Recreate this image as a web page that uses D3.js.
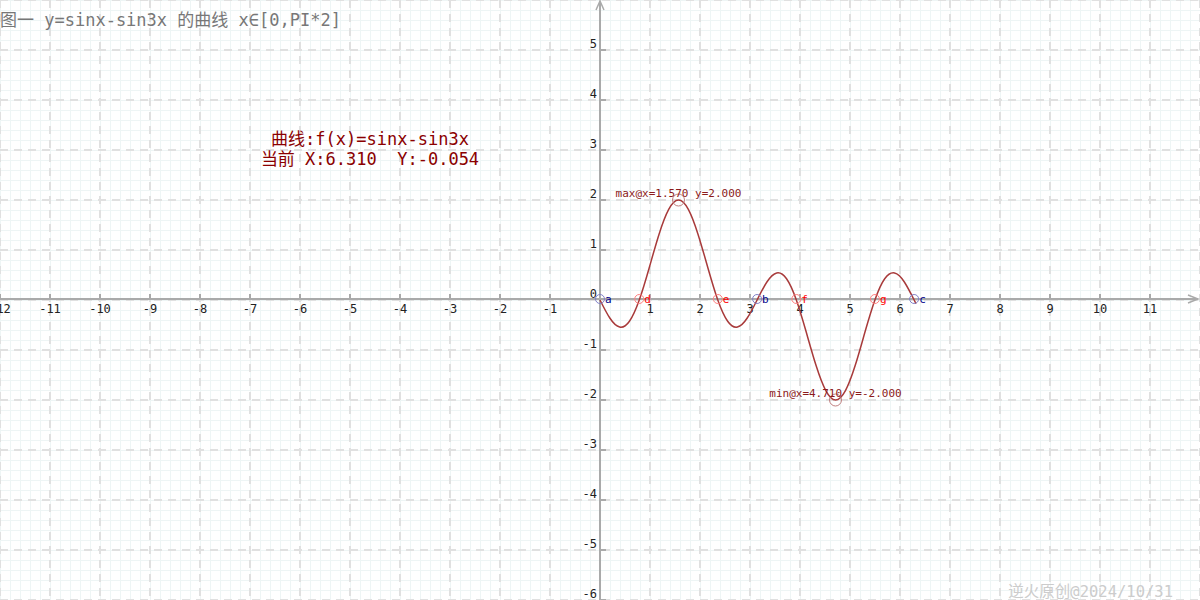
<!DOCTYPE html>
<html><head><meta charset="utf-8">
<script src="https://cdn.jsdelivr.net/npm/d3@7"></script>
<style>html,body{margin:0;padding:0;background:#fff;overflow:hidden} text{white-space:pre}</style>
</head><body>
<svg id="c" width="1200" height="600"></svg>
<script>
// ---- data ----
const xTicks = [-12,-11,-10,-9,-8,-7,-6,-5,-4,-3,-2,-1,1,2,3,4,5,6,7,8,9,10,11];
const yTicks = [-6,-5,-4,-3,-2,-1,0,1,2,3,4,5];
const curveX = [0,0.196,0.393,0.589,0.785,0.982,1.178,1.374,1.571,1.767,1.963,2.160,2.356,2.553,2.749,2.945,3.142,3.338,3.534,3.731,3.927,4.123,4.320,4.516,4.712,4.909,5.105,5.301,5.498,5.694,5.890,6.087,6.283,6.310];
const curveY = [0,-0.3605,-0.5412,-0.4252,0,0.6364,1.3066,1.8123,2,1.8123,1.3066,0.6364,0,-0.4252,-0.5412,-0.3605,0,0.3605,0.5412,0.4252,0,-0.6364,-1.3066,-1.8123,-2,-1.8123,-1.3066,-0.6364,0,0.4252,0.5412,0.3605,0,-0.054];
const rootNames = ["a","d","e","b","f","g","c"];
const rootX = [0,0.785,2.356,3.142,3.927,5.498,6.283];
const rootKind = ["blue","red","red","blue","red","red","blue"];
const extremaLabel = ["max@x=1.570 y=2.000","min@x=4.710 y=-2.000"];
const extremaX = [1.570,4.710];
const extremaY = [2,-2];
const titleText = "图一 y=sinx-sin3x 的曲线 x∈[0,PI*2]";
const infoLine1 = "曲线:f(x)=sinx-sin3x";
const infoLine2 = "当前 X:6.310  Y:-0.054";
const watermark = "逆火原创@2024/10/31";

const W=1200,H=600;
const svg=d3.select("#c");
const x=d3.scaleLinear().domain([-12,12]).range([0,1200]);
const y=d3.scaleLinear().domain([-6,6]).range([600,0]);
const mono="'DejaVu Sans Mono', 'Liberation Mono', monospace";
const cjk="'DejaVu Sans Mono','Noto Sans CJK SC', monospace";

// minor grid
const minorX=d3.range(-12,12.01,0.2), minorY=d3.range(-6,6.01,0.2);
svg.append("g").selectAll("line").data(minorX).join("line")
  .attr("x1",d=>x(d)+0.5).attr("x2",d=>x(d)+0.5).attr("y1",0).attr("y2",H)
  .attr("stroke","#eef5f5").attr("stroke-width",1);
svg.append("g").selectAll("line").data(minorY).join("line")
  .attr("y1",d=>y(d)+0.5).attr("y2",d=>y(d)+0.5).attr("x1",0).attr("x2",W)
  .attr("stroke","#eef5f5").attr("stroke-width",1);
// major dashed grid
svg.append("g").selectAll("line").data(d3.range(-12,13)).join("line")
  .attr("x1",d=>x(d)).attr("x2",d=>x(d)).attr("y1",0).attr("y2",H)
  .attr("stroke","#e0e0e0").attr("stroke-width",2).attr("stroke-dasharray","8,6");
svg.append("g").selectAll("line").data(d3.range(-6,7)).join("line")
  .attr("y1",d=>y(d)).attr("y2",d=>y(d)).attr("x1",0).attr("x2",W)
  .attr("stroke","#e0e0e0").attr("stroke-width",2).attr("stroke-dasharray","8,6");

// axes
const ax="#aaaaaa";
svg.append("line").attr("x1",0).attr("x2",1198).attr("y1",y(0)-1).attr("y2",y(0)-1).attr("stroke",ax).attr("stroke-width",2);
svg.append("line").attr("x1",x(0)).attr("x2",x(0)).attr("y1",2).attr("y2",H).attr("stroke",ax).attr("stroke-width",2);
svg.append("path").attr("d",`M${1188},${y(0)-5} L1198,${y(0)-1} L1188,${y(0)+3}`).attr("fill","none").attr("stroke",ax).attr("stroke-width",1.5);
svg.append("path").attr("d",`M${x(0)-4},10 L${x(0)},1 L${x(0)+4},10`).attr("fill","none").attr("stroke",ax).attr("stroke-width",1.5);

// x ticks
const xt=svg.append("g");
xt.selectAll("line").data(xTicks).join("line")
  .attr("x1",d=>x(d)).attr("x2",d=>x(d)).attr("y1",y(0)-6).attr("y2",y(0)).attr("stroke",ax).attr("stroke-width",2);
xt.selectAll("text").data(xTicks).join("text")
  .attr("x",d=>x(d)).attr("y",y(0)+13).attr("text-anchor","middle")
  .attr("font-family",mono).attr("font-size",12).attr("fill","#222").text(d=>d);
// y ticks
const yt=svg.append("g");
yt.selectAll("line").data(yTicks.filter(d=>d!==0)).join("line")
  .attr("x1",x(0)).attr("x2",x(0)+6).attr("y1",d=>y(d)).attr("y2",d=>y(d)).attr("stroke",ax).attr("stroke-width",2);
yt.selectAll("text").data(yTicks).join("text")
  .attr("x",x(0)-3).attr("y",d=>y(d)-2).attr("text-anchor","end")
  .attr("font-family",mono).attr("font-size",12).attr("fill","#222").text(d=>d);

// curve
const pts=curveX.map((d,i)=>[d,curveY[i]]);
svg.append("path").datum(pts)
  .attr("d",d3.line().x(d=>x(d[0])).y(d=>y(d[1])).curve(d3.curveNatural))
  .attr("fill","none").attr("stroke","#a83a3a").attr("stroke-width",1.5);

// roots
const colr={blue:"#00008b",red:"#ff0000"};
const ringc={blue:"#8080c8",red:"#ff8080"};
const rg=svg.append("g");
rg.selectAll("circle").data(rootX).join("circle")
  .attr("cx",d=>x(d)).attr("cy",y(0)-1).attr("r",4.5)
  .attr("fill","none").attr("stroke",(d,i)=>ringc[rootKind[i]]).attr("stroke-width",1);
rg.selectAll("text").data(rootX).join("text")
  .attr("x",d=>x(d)+5).attr("y",y(0)+3).attr("font-family",mono).attr("font-size",11)
  .attr("fill",(d,i)=>colr[rootKind[i]]).text((d,i)=>rootNames[i]);

// extrema
const eg=svg.append("g");
eg.selectAll("circle").data(extremaX).join("circle")
  .attr("cx",d=>x(d)).attr("cy",(d,i)=>y(extremaY[i])).attr("r",6)
  .attr("fill","none").attr("stroke","#c08080").attr("stroke-width",1);
eg.selectAll("text").data(extremaX).join("text")
  .attr("x",d=>x(d)).attr("y",(d,i)=>y(extremaY[i])+(extremaY[i]>0?-3:-3))
  .attr("text-anchor","middle").attr("font-family",mono).attr("font-size",11)
  .attr("fill","#8b1a1a").text((d,i)=>extremaLabel[i]);

// texts
svg.append("text").attr("x",0).attr("y",26).attr("font-family",cjk).attr("font-size",17)
  .attr("fill","#777").text(titleText);
svg.append("text").attr("x",370).attr("y",145).attr("text-anchor","middle").attr("font-family",cjk).attr("font-size",17)
  .attr("fill","#8b0000").text(infoLine1);
svg.append("text").attr("x",370).attr("y",165).attr("text-anchor","middle").attr("font-family",cjk).attr("font-size",17)
  .attr("fill","#8b0000").attr("xml:space","preserve").text(infoLine2);
svg.append("text").attr("x",1173).attr("y",597).attr("text-anchor","end").attr("font-family",cjk).attr("font-size",15.5)
  .attr("fill","#cccccc").text(watermark);
</script>
</body></html>
